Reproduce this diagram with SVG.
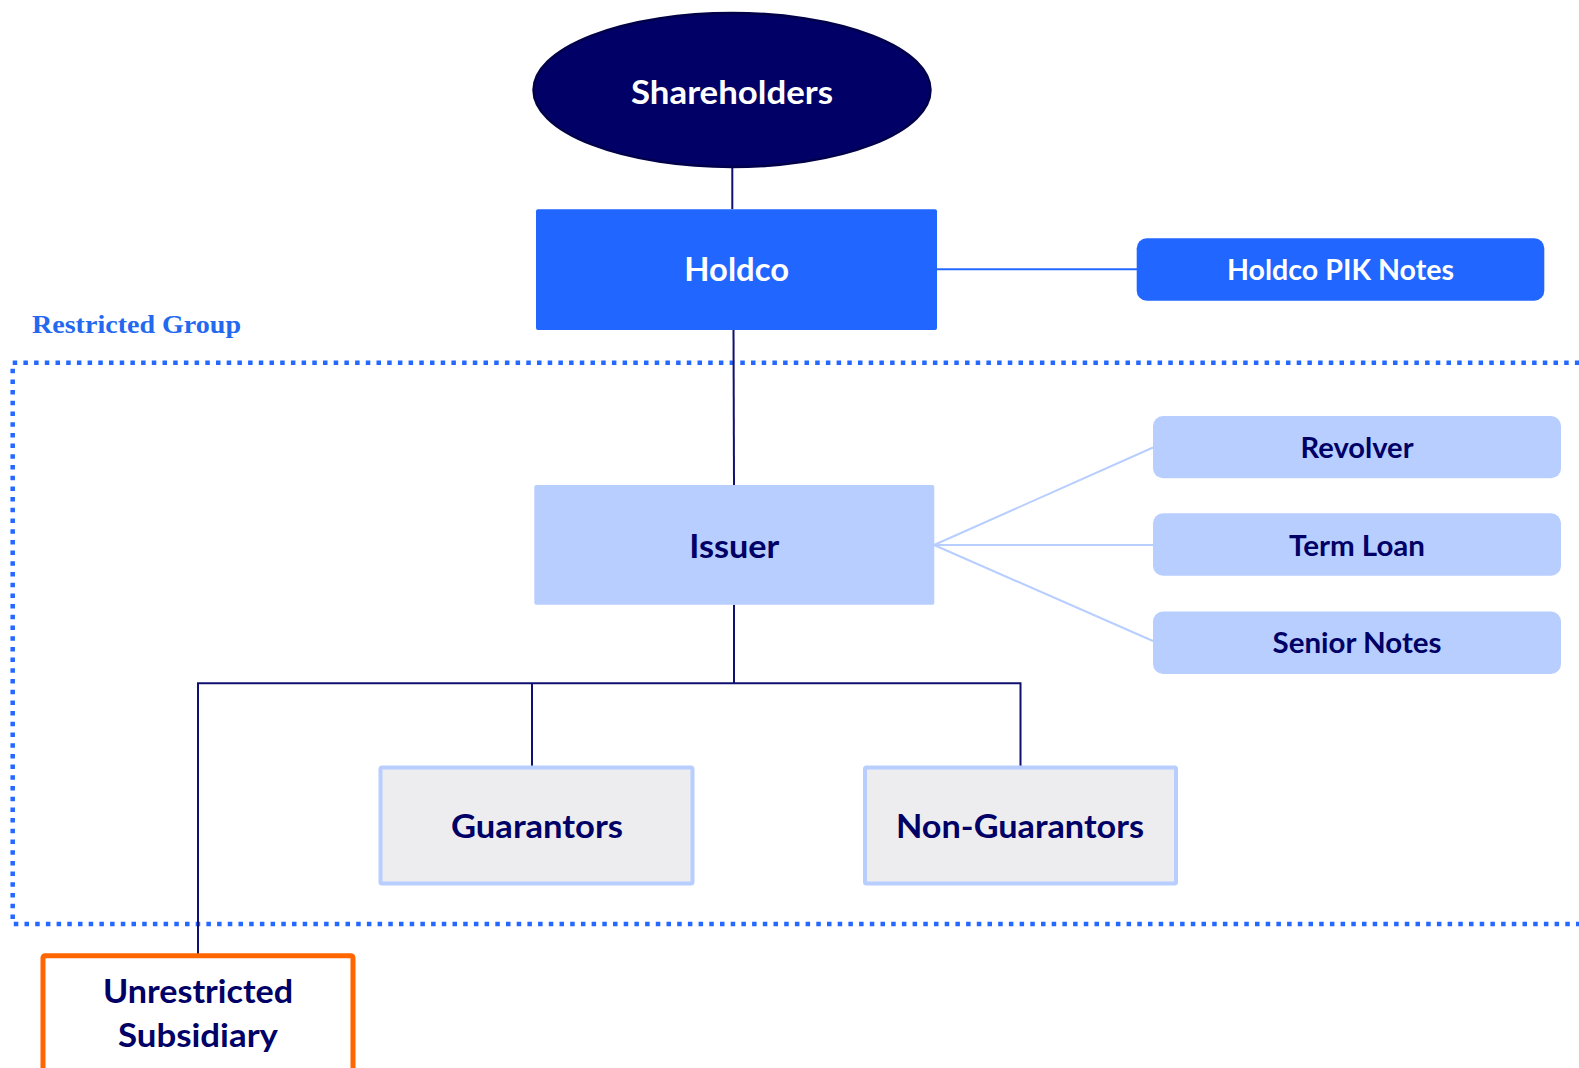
<svg xmlns="http://www.w3.org/2000/svg" width="1579" height="1068" viewBox="0 0 1579 1068">
  <style>
    .lbl { font-family: Lato, "Open Sans", "Liberation Sans", sans-serif; font-weight: 700; text-anchor: middle; }
    .big { font-size: 32.5px; }
    .small { font-size: 28.5px; }
    .white { fill: #ffffff; }
    .navy { fill: #000066; }
    .tree { stroke: #101070; stroke-width: 2; fill: none; }
    .debt { stroke: #b7ceff; stroke-width: 2; fill: none; }
    .pik { stroke: #2468ff; stroke-width: 2; fill: none; }
    .tranche { fill: #b7ceff; }
    .sub { fill: #ededf0; stroke: #b7ceff; stroke-width: 4; }
  </style>

  <rect width="1579" height="1068" fill="#ffffff"/>

  <!-- restricted group boundary (continues past the right edge) -->
  <g id="restricted-group">
    <rect x="12.7" y="362.7" width="1600" height="561.3" fill="none" stroke="#2468ff" stroke-width="4.5" stroke-dasharray="4.5 6.2"/>
    <text x="32" y="333" font-family="'Liberation Serif', serif" font-weight="700" font-size="25" fill="#2468f0" textLength="209" lengthAdjust="spacingAndGlyphs">Restricted Group</text>
  </g>

  <!-- connectors -->
  <g id="connectors">
    <line class="tree" x1="732.3" y1="168" x2="732.3" y2="209"/>
    <line class="tree" x1="733.5" y1="330" x2="734" y2="485"/>
    <line class="pik" x1="936" y1="269.3" x2="1137" y2="269.3"/>
    <line class="debt" x1="934" y1="545" x2="1153" y2="447.5"/>
    <line class="debt" x1="934" y1="545" x2="1153" y2="545"/>
    <line class="debt" x1="934" y1="545" x2="1153" y2="641"/>
    <line class="tree" x1="734" y1="604.7" x2="734" y2="683.3"/>
    <polyline class="tree" points="198,954 198,683.3 1020.5,683.3 1020.5,766"/>
    <line class="tree" x1="532" y1="683.3" x2="532" y2="766"/>
  </g>

  <g id="shareholders">
    <ellipse cx="732" cy="90" rx="198.5" ry="77" fill="#000066" stroke="#00004a" stroke-width="2.5"/>
    <text class="lbl big white" x="732" y="103.5" textLength="202" lengthAdjust="spacingAndGlyphs">Shareholders</text>
  </g>

  <g id="holdco">
    <rect x="536" y="209.3" width="401" height="120.7" rx="2" fill="#2166ff"/>
    <text class="lbl big white" x="736.7" y="280.7" textLength="104.7" lengthAdjust="spacingAndGlyphs">Holdco</text>
  </g>

  <g id="holdco-pik-notes">
    <rect x="1136.7" y="238.3" width="407.6" height="62.4" rx="10" fill="#2166ff"/>
    <text class="lbl small white" x="1340.5" y="280" textLength="227" lengthAdjust="spacingAndGlyphs">Holdco PIK Notes</text>
  </g>

  <g id="issuer">
    <rect x="534.3" y="485" width="400" height="119.7" rx="2" fill="#b7ceff"/>
    <text class="lbl big navy" x="734.3" y="558.3" textLength="90" lengthAdjust="spacingAndGlyphs">Issuer</text>
  </g>

  <g id="revolver">
    <rect class="tranche" x="1153" y="416" width="408" height="62.3" rx="10"/>
    <text class="lbl small navy" x="1357" y="458.3" textLength="113" lengthAdjust="spacingAndGlyphs">Revolver</text>
  </g>

  <g id="term-loan">
    <rect class="tranche" x="1153" y="513.3" width="408" height="62.4" rx="10"/>
    <text class="lbl small navy" x="1357" y="555.7" textLength="136" lengthAdjust="spacingAndGlyphs">Term Loan</text>
  </g>

  <g id="senior-notes">
    <rect class="tranche" x="1153" y="611.5" width="408" height="62.5" rx="10"/>
    <text class="lbl small navy" x="1357" y="653.3" textLength="169" lengthAdjust="spacingAndGlyphs">Senior Notes</text>
  </g>

  <g id="guarantors">
    <rect class="sub" x="380.5" y="767.5" width="312" height="116" rx="1.5"/>
    <text class="lbl big navy" x="537" y="838" textLength="172" lengthAdjust="spacingAndGlyphs">Guarantors</text>
  </g>

  <g id="non-guarantors">
    <rect class="sub" x="865" y="767.5" width="311" height="116" rx="1.5"/>
    <text class="lbl big navy" x="1020" y="838" textLength="248" lengthAdjust="spacingAndGlyphs">Non-Guarantors</text>
  </g>

  <g id="unrestricted-subsidiary">
    <rect x="43" y="955.8" width="310" height="130" rx="2" fill="#ffffff" stroke="#ff6600" stroke-width="5"/>
    <text class="lbl big navy" x="198" y="1003.3" textLength="190" lengthAdjust="spacingAndGlyphs">Unrestricted</text>
    <text class="lbl big navy" x="198" y="1047" textLength="160" lengthAdjust="spacingAndGlyphs">Subsidiary</text>
  </g>
</svg>
